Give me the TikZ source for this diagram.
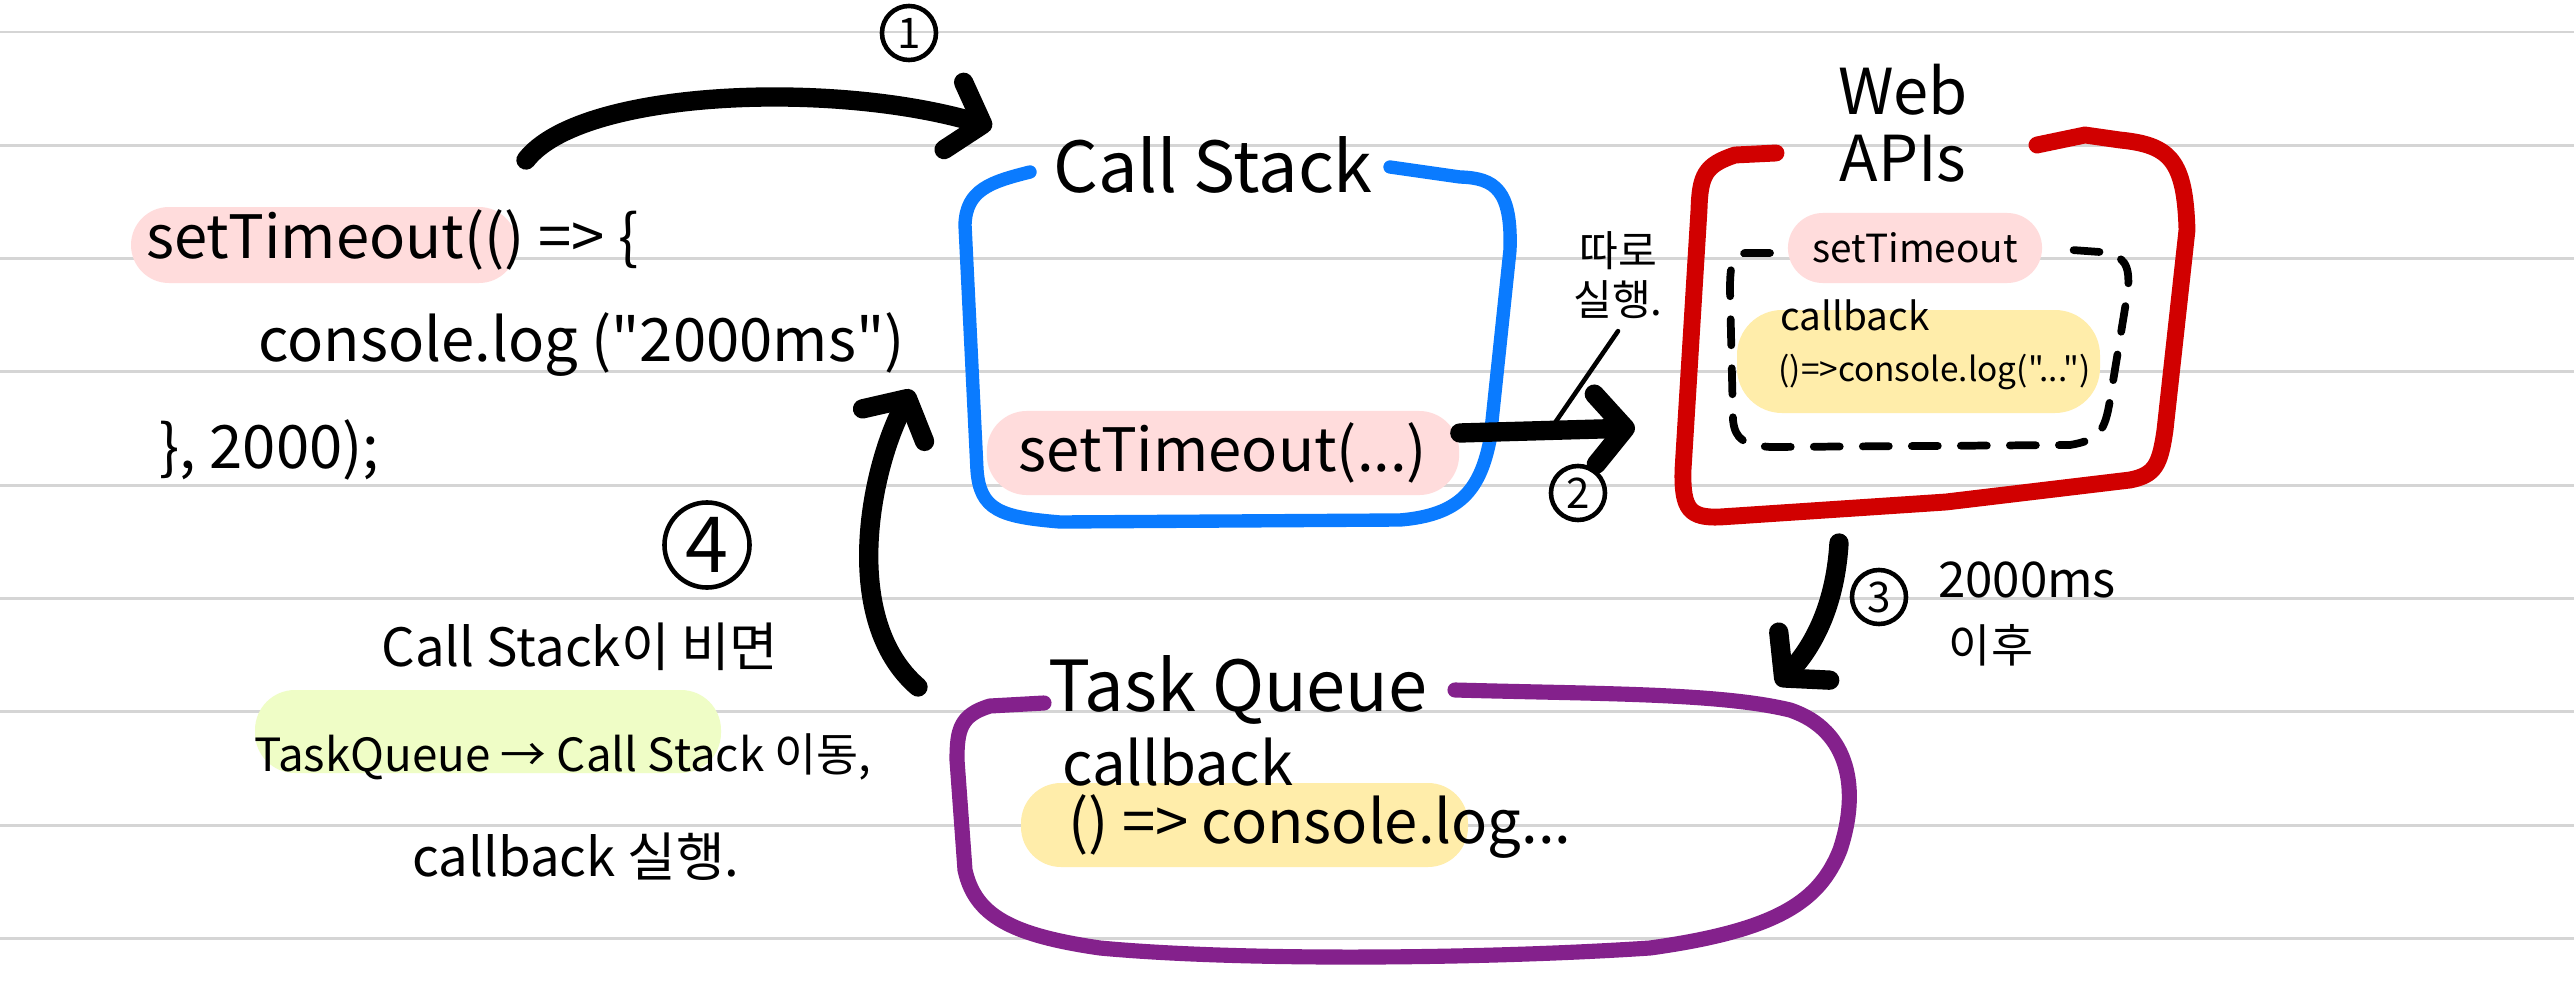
\documentclass[tikz,border=0pt]{standalone}
\usepackage{fontspec}
\newfontfamily\kr{Noto Sans CJK KR}
\usetikzlibrary{arrows.meta}
\definecolor{stackblue}{HTML}{0A7BFF}
\definecolor{apired}{HTML}{D10000}
\definecolor{queuepurple}{HTML}{84218C}
\definecolor{hlpink}{HTML}{FFDCDC}
\definecolor{hlyellow}{HTML}{FFEDAA}
\definecolor{hlgreen}{HTML}{EFFDC6}
\definecolor{ruleline}{HTML}{D5D5D5}
\begin{document}
\begin{tikzpicture}[x=0.01cm,y=-0.01cm,
	rule/.style={ruleline,line width=0.8pt},
	pen/.style={line cap=round,line join=round},
	bigtxt/.style={font=\kr\fontsize{20pt}{24pt}\selectfont},
	codetxt/.style={font=\kr\fontsize{17pt}{20pt}\selectfont},
	smalltxt/.style={font=\kr\fontsize{11pt}{14pt}\selectfont},
	notetxt/.style={font=\kr\fontsize{15pt}{18pt}\selectfont},
	flow/.style={pen,line width=5.5pt,-{Straight Barb[length=0.3cm,width=0.7cm,round]}},
	num/.style={circle,draw,line width=1.3pt,inner sep=0pt,minimum size=0.54cm,font=\kr\fontsize{12pt}{12pt}\selectfont}]
	\useasboundingbox (0,0) rectangle (2574,1000);
	\fill[white] (0,0) rectangle (2574,1000);
	\foreach \k in {0,...,8} \draw[rule] (0,{32+113.3*\k}) -- (2574,{32+113.3*\k});
	
	\fill[hlpink,rounded corners=0.38cm] (131,207) rectangle (517,283);
	\fill[hlyellow,rounded corners=0.45cm] (1737,310) rectangle (2100,413);
	\fill[hlyellow,rounded corners=0.4cm] (1021,783) rectangle (1468,867);
	\fill[hlgreen,rounded corners=0.4cm] (255,690) rectangle (721,773);
	
	\draw[pen,stackblue,line width=3.8pt] (1030,172) .. controls (990,182) and (966,190) .. (965,225) -- (977,470) .. controls (980,510) and (1000,517) .. (1060,522) -- (1400,520) .. controls (1460,515) and (1480,490) .. (1490,440) -- (1510,250) .. controls (1512,190) and (1495,178) .. (1460,177) -- (1390,167);
	\draw[pen,apired,line width=4.8pt] (1776,153) -- (1735,155) .. controls (1705,165) and (1700,175) .. (1699,210) -- (1683,470) .. controls (1682,510) and (1690,518) .. (1720,517) -- (1946,502) -- (2130,480) .. controls (2155,475) and (2160,465) .. (2165,430) -- (2187,230) .. controls (2185,160) and (2170,145) .. (2120,140) -- (2085,135) -- (2037,145);
	\draw[pen,queuepurple,line width=4.3pt] (1044,703) -- (990,706) .. controls (960,715) and (957,730) .. (957,760) -- (965,870) .. controls (975,915) and (1010,935) .. (1100,948) .. controls (1250,962) and (1500,958) .. (1650,948) .. controls (1780,930) and (1820,900) .. (1840,850) .. controls (1860,790) and (1850,730) .. (1790,710) .. controls (1720,693) and (1600,694) .. (1455,690);
	\draw[pen,line width=2.2pt,dash pattern=on 0.26cm off 0.23cm] (1770,253) -- (1745,253) .. controls (1732,256) and (1730,265) .. (1730,290) -- (1733,420) .. controls (1735,440) and (1745,445) .. (1770,447) -- (2070,445) .. controls (2100,440) and (2105,430) .. (2110,400) -- (2128,290) .. controls (2130,265) and (2125,255) .. (2100,252) -- (2072,250);
	
	\node[codetxt,anchor=west] (code1) at (134,240) {setTimeout(() => \{};
	\node[codetxt,anchor=west] (code2) at (246,345) {console.log ("2000ms")};
	\node[codetxt,anchor=west] (code3) at (147,450) {\}, 2000);};
	
	\node[bigtxt] (stack) at (1213,165) {Call Stack};
	\node[codetxt,fill=hlpink,rounded corners=0.4cm,minimum width=4.72cm,minimum height=0.8cm] (csitem) at (1223,453) {setTimeout(...)};
	
	\node[bigtxt,align=center,font=\kr\fontsize{18pt}{19pt}\selectfont] (web) at (1903,123) {Web\\APIs};
	\node[smalltxt,fill=hlpink,rounded corners=0.35cm,minimum width=2.54cm,minimum height=0.7cm] (wsto) at (1915,248) {setTimeout};
	\node[smalltxt,anchor=west] (wcb) at (1768,315) {callback};
	\node[smalltxt,anchor=west,font=\kr\fontsize{9.5pt}{12pt}\selectfont] (wlog) at (1766,372) {()=>console.log("...")};
	
	\node[bigtxt] (queue) at (1238,690) {Task Queue};
	\node[codetxt,anchor=west] (qcb) at (1050,762) {callback};
	\node[codetxt,anchor=west] (qlog) at (1056,827) {() => console.log...};
	
	\node[notetxt] (note4a) at (580,647) {Call Stack이 비면};
	\node[notetxt,font=\kr\fontsize{13pt}{16pt}\selectfont] (note4b) at (563,757) {TaskQueue → Call Stack 이동,};
	\node[notetxt] (note4c) at (576,857) {callback 실행.};
	\node[font=\kr\fontsize{12pt}{14pt}\selectfont,align=center] (note2) at (1618,275) {따로\\실행.};
	\node[font=\kr\fontsize{14pt}{16pt}\selectfont] (wait) at (2027,580) {2000ms};
	\node[font=\kr\fontsize{13pt}{16pt}\selectfont] (after) at (1991,645) {이후};
	
	\node[num] (n1) at (909,33) {1};
	\node[num] (n2) at (1578,493) {2};
	\node[num] (n3) at (1879,597) {3};
	\node[num,minimum size=0.85cm,font=\kr\fontsize{22pt}{22pt}\selectfont] (n4) at (707,545) {4};
	
	\coordinate (c1s) at (526,160); \coordinate (c1e) at (992,127);
	\coordinate (c2e) at (1635,428); \coordinate (lead) at (1550,430);
	\coordinate (c3s) at (1839,543); \coordinate (c3e) at (1777,685);
	\coordinate (c4s) at (918,687); \coordinate (c4e) at (912,390);
	
	\draw[flow] (c1s) .. controls (580,90) and (830,80) .. (c1e);
	\draw[flow] ([yshift=0.2cm]csitem.east) -- (c2e);
	\draw[pen,line width=1.3pt] (note2.south) -- (lead);
	\draw[flow] (c3s) .. controls (1835,610) and (1810,650) .. (c3e);
	\draw[flow] (c4s) .. controls (840,620) and (870,470) .. (c4e);
\end{tikzpicture}
\end{document}
